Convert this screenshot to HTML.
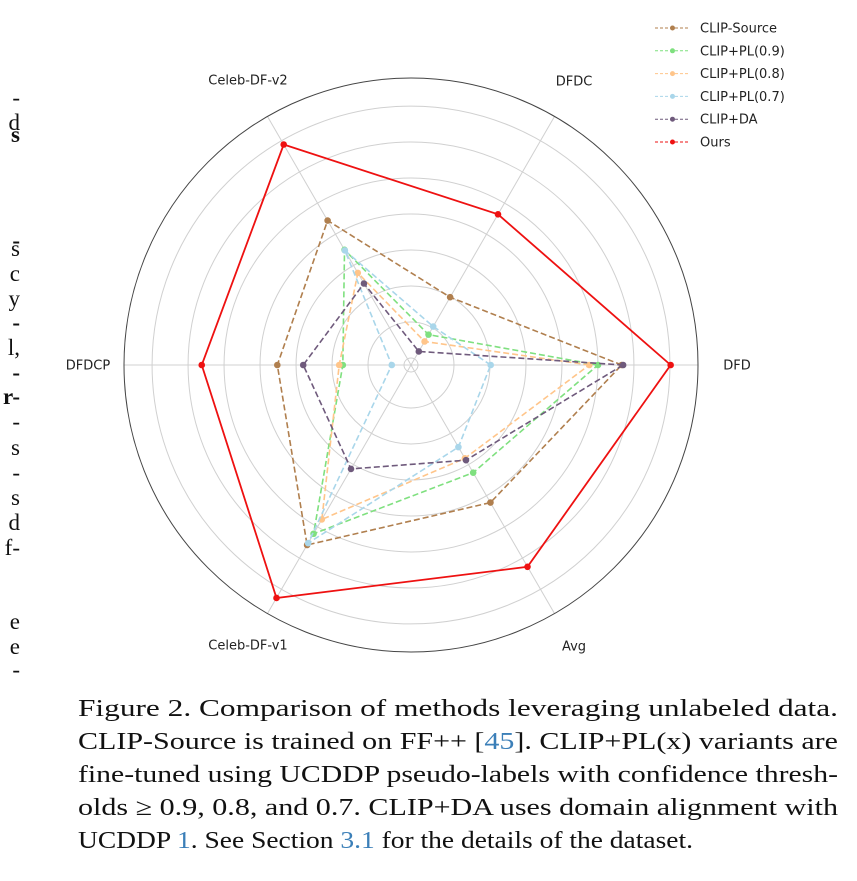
<!DOCTYPE html>
<html><head><meta charset="utf-8"><style>
html,body{margin:0;padding:0;background:#fff;width:857px;height:881px;overflow:hidden}
svg{display:block}
.ax{font-family:"DejaVu Sans","Liberation Sans",sans-serif;font-size:13px;fill:#222}
.cap{font-family:"Liberation Serif",serif;font-size:24px;fill:#111}
.side{font-family:"Liberation Serif",serif;font-size:23px;fill:#111}
</style></head><body>
<svg id="chart" width="857" height="881" viewBox="0 0 857 881" xmlns="http://www.w3.org/2000/svg">
<g id="side"></g>
<g id="grid"></g>
<g id="series"></g>
<g id="labels"></g>
<g id="legend"></g>
<g>
<text class="cap" x="78" y="716" textLength="760" lengthAdjust="spacingAndGlyphs">Figure 2.  Comparison of methods leveraging unlabeled data.</text>
<text class="cap" x="78" y="749" textLength="760" lengthAdjust="spacingAndGlyphs">CLIP-Source is trained on FF++ [<tspan fill="#3b7fb8">45</tspan>].  CLIP+PL(x) variants are</text>
<text class="cap" x="78" y="782" textLength="760" lengthAdjust="spacingAndGlyphs">fine-tuned using UCDDP pseudo-labels with confidence thresh-</text>
<text class="cap" x="78" y="815" textLength="760" lengthAdjust="spacingAndGlyphs">olds ≥ 0.9, 0.8, and 0.7. CLIP+DA uses domain alignment with</text>
<text class="cap" x="78" y="848" textLength="615" lengthAdjust="spacingAndGlyphs">UCDDP  <tspan fill="#3b7fb8">1</tspan>. See Section  <tspan fill="#3b7fb8">3.1</tspan> for the details of the dataset.</text>
</g>
</svg>
<script>
const categories = ["DFD","DFDC","Celeb-DF-v2","DFDCP","Celeb-DF-v1","Avg"];
const seriesNames = ["CLIP-Source","CLIP+PL(0.9)","CLIP+PL(0.8)","CLIP+PL(0.7)","CLIP+DA","Ours"];
const clipSource = [0.783,0.599,0.722,0.676,0.779,0.711];
const clipPL09 = [0.750,0.539,0.675,0.585,0.761,0.663];
const clipPL08 = [0.738,0.528,0.638,0.590,0.738,0.640];
const clipPL07 = [0.601,0.552,0.674,0.517,0.776,0.622];
const clipDA = [0.785,0.512,0.621,0.640,0.657,0.643];
const ours = [0.851,0.732,0.844,0.781,0.864,0.814];
const ringTicks = [0.5,0.55,0.6,0.65,0.7,0.75,0.8,0.85];
const rMax = 0.889;

const NS="http://www.w3.org/2000/svg";
const cx=411, cy=365, r0=7, rOuter=287;
const rScale = v => r0 + (v-0.5)/(rMax-0.5)*(rOuter-r0);
const ang = i => i*Math.PI*2/categories.length;
const pt = (i,v)=>[cx+rScale(v)*Math.cos(ang(i)), cy-rScale(v)*Math.sin(ang(i))];
function mk(tag,attrs,parent){const e=document.createElementNS(NS,tag);for(const k in attrs)e.setAttribute(k,attrs[k]);parent.appendChild(e);return e;}

const grid=document.getElementById('grid');
ringTicks.forEach(t=>{
  const c=mk('circle',{cx:cx,cy:cy,r:rScale(t),fill:'none',stroke:'#d0d0d0','stroke-width':1},grid);
  
  
});
categories.forEach((c,i)=>{
  const a=ang(i);
  const l=mk('line',{x1:cx,y1:cy,x2:cx+rOuter*Math.cos(a),y2:cy-rOuter*Math.sin(a),stroke:'#d0d0d0','stroke-width':1},grid);
  
  
});
const oc=mk('circle',{cx:cx,cy:cy,r:rOuter,fill:'none',stroke:'#444','stroke-width':1},grid);



const labels=document.getElementById('labels');
const labelOffX=[326,163,-163,-323,-163,163];
const labelOffY=[0,-284,-285,0,280,281];
categories.forEach((c,i)=>{
  const t=mk('text',{x:cx+labelOffX[i],y:cy+labelOffY[i]+4.5,'text-anchor':'middle',class:'ax'},labels);
  t.textContent=c;
  
  
});

const allSeries=[clipSource,clipPL09,clipPL08,clipPL07,clipDA,ours];
const colors=['#b07f4e','#7fe07f','#ffc58a','#a9d6ea','#6f5a7c','#ee1111'];
const sg=document.getElementById('series');
allSeries.forEach((s,k)=>{
  const g=mk('g',{},sg);
  
  
  const pts=s.map((v,i)=>pt(i,v));
  const p=mk('polygon',{points:pts.map(q=>q.join(',')).join(' '),fill:'none',stroke:colors[k],'stroke-width':k===5?1.8:1.6,'stroke-dasharray':k===5?'none':'6,3'},g);
  
  
  pts.forEach(q=>{
    const m=mk('circle',{cx:q[0],cy:q[1],r:3.3,fill:colors[k]},g);
    
    
  });
});

const lg=document.getElementById('legend');
seriesNames.forEach((n,k)=>{
  const y=28+k*22.8;
  const g=mk('g',{},lg);
  
  
  mk('line',{x1:655,y1:y,x2:690,y2:y,stroke:colors[k],'stroke-width':1,'stroke-dasharray':'3,2'},g);
  mk('circle',{cx:672.5,cy:y,r:2.5,fill:colors[k]},g);
  const t=mk('text',{x:700,y:y+4.5,class:'ax'},g);
  t.textContent=n;
});

const side=document.getElementById('side');
const frags=[["-",99,0],["d",124,0],["s",136,1],["-",242,1],["s",250,0],["c",275,0],["y",300,0],["-",324,1],["l,",349,0],["-",374,1],["r-",398,1],["-",423,0],["s",449,0],["-",474,0],["s",499,0],["d",524,0],["f-",549,0],["e",623,0],["e",648,0],["-",671,0]];
frags.forEach(f=>{
  const t=mk('text',{x:20,y:f[1]+6,'text-anchor':'end',class:'side','font-weight':f[2]?'bold':'normal'},side);
  t.textContent=f[0];
  
  
});
</script>
</body></html>
